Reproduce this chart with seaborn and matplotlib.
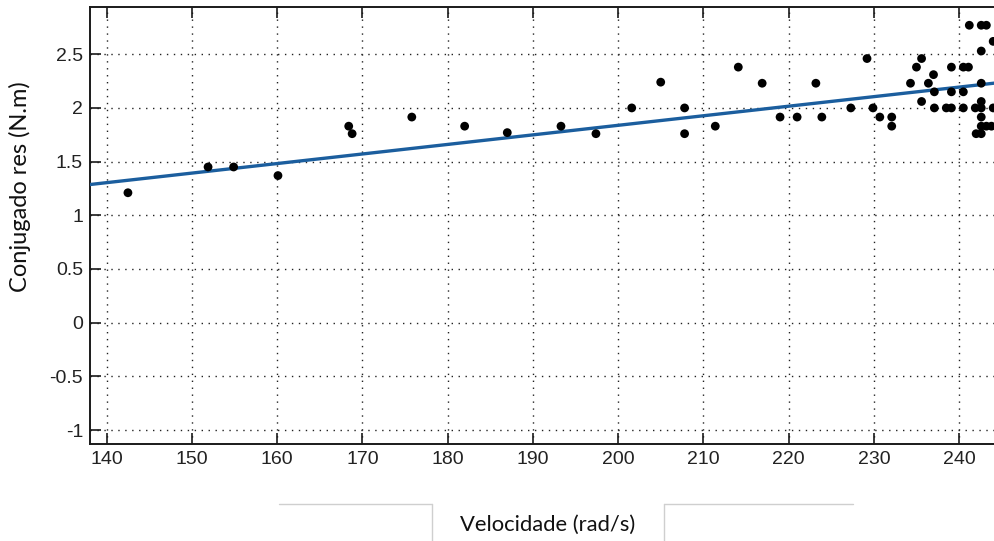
import numpy as np
import pandas as pd
import matplotlib
matplotlib.use("Agg")
import matplotlib.pyplot as plt
from matplotlib.lines import Line2D
from matplotlib import font_manager
import seaborn as sns

# Measured speed / resistive torque pairs
velocidade = [142.5, 151.9, 154.9, 160.1, 168.4, 168.8, 175.8, 182.0, 187.0, 193.3,
              197.4, 201.6, 205.0, 207.8, 207.8, 211.4, 214.1, 216.9, 219.0, 221.0,
              223.2, 223.9, 227.3, 229.2, 229.9, 230.7, 232.1, 232.1, 234.3, 235.0,
              235.6, 235.6, 236.4, 237.0, 237.1, 237.1, 238.5, 239.1, 239.1, 239.1,
              240.5, 240.5, 240.5, 241.1, 241.2, 241.9, 242.0, 242.6, 242.6, 242.6,
              242.6, 242.6, 242.6, 242.6, 242.6, 243.2, 243.2, 243.8, 244.0, 244.0]
conjugado = [1.21, 1.45, 1.45, 1.37, 1.83, 1.76, 1.915, 1.83, 1.77, 1.83,
             1.76, 2.00, 2.24, 2.00, 1.76, 1.83, 2.38, 2.23, 1.915, 1.915,
             2.23, 1.915, 2.00, 2.46, 2.00, 1.915, 1.915, 1.83, 2.23, 2.38,
             2.46, 2.06, 2.23, 2.31, 2.15, 2.00, 2.00, 2.00, 2.38, 2.15,
             2.15, 2.00, 2.38, 2.38, 2.77, 2.00, 1.76, 2.77, 2.53, 2.23,
             2.06, 2.00, 1.915, 1.83, 1.76, 2.77, 1.83, 1.83, 2.62, 2.00]

# Linear fit coefficients (torque = slope * speed + intercept)
fit_slope = 0.0089
fit_intercept = 0.058

xticks = [140, 150, 160, 170, 180, 190, 200, 210, 220, 230, 240]
yticks = [-1, -0.5, 0, 0.5, 1, 1.5, 2, 2.5]
ytick_labels = ["-1", "-0.5", "0", "0.5", "1", "1.5", "2", "2.5"]

df = pd.DataFrame({"Velocidade": velocidade, "Conjugado": conjugado})

sns.set_theme(style="white")

# narrow face for the tick numbers if one is installed
installed = {f.name for f in font_manager.fontManager.ttflist}
tick_stretch = "normal"
if "Liberation Sans Narrow" in installed:
    tick_family = ["Liberation Sans Narrow", "DejaVu Sans"]
else:
    tick_family = ["Liberation Sans", "DejaVu Sans"]
    tick_stretch = "condensed"
plt.rcParams["font.family"] = tick_family

W, H = 994, 541
fig = plt.figure(figsize=(W / 100, H / 100), dpi=100)
fig.patch.set_facecolor("white")

# axes box in pixels: left 90, top 7, bottom 444, right runs past the figure edge
left_px, right_px, top_px, bot_px = 90, 1000, 7, 444
ax = fig.add_axes([left_px / W, 1 - bot_px / H, (right_px - left_px) / W, (bot_px - top_px) / H])

xlim = (138.05, 244.8)
ylim = (-1.13, 2.94)

fit_x = np.array(xlim)
fit_df = pd.DataFrame({"Velocidade": fit_x, "Conjugado": fit_slope * fit_x + fit_intercept})

sns.lineplot(data=fit_df, x="Velocidade", y="Conjugado", ax=ax, color="#1b5e9e",
             linewidth=2.4, zorder=3)
sns.scatterplot(data=df, x="Velocidade", y="Conjugado", ax=ax, color="black",
                s=40, edgecolor="none", zorder=4)

ax.set_xlim(*xlim)
ax.set_ylim(*ylim)
ax.set_xticks(xticks)
ax.set_xticklabels([str(t) for t in xticks])
ax.set_yticks(yticks)
ax.set_yticklabels(ytick_labels)
ax.set_xlabel("")
ax.set_ylabel("")

ax.grid(True, color="#222222", linestyle=(0, (1, 4)), linewidth=1.0)
ax.set_axisbelow(True)
for side in ["left", "bottom", "top"]:
    ax.spines[side].set_visible(True)
    ax.spines[side].set_color("#1a1a1a")
    ax.spines[side].set_linewidth(1.4)
ax.spines["right"].set_visible(False)

ax.tick_params(axis="both", direction="in", length=8, width=1.2, color="#1a1a1a",
               labelsize=14, labelcolor="#222222", pad=5)
ax.tick_params(axis="x", top=True, bottom=True)
ax.tick_params(axis="y", left=True, right=False)
for lab in ax.get_xticklabels() + ax.get_yticklabels():
    lab.set_fontstretch(tick_stretch)

# axis titles
title_family = ["Lato", "DejaVu Sans"]
fig.text(548 / W, 1 - 525 / H, "Velocidade (rad/s)", ha="center", va="center",
         fontsize=15.8, family=title_family, color="#111111")
fig.text(20 / W, 1 - 187 / H, "Conjugado res (N.m)", ha="center", va="center",
         rotation=90, fontsize=17, family=title_family, color="#111111")

# light frame edges beside the x-axis title
frame_col = "#cfcfcf"
for xs, ys in [([279, 432], [504, 504]), ([432, 432], [504, 541]),
               ([664, 853], [504, 504]), ([664, 664], [504, 541])]:
    fig.add_artist(Line2D([x / W for x in xs], [1 - y / H for y in ys],
                          color=frame_col, linewidth=1.0))

fig.savefig("out.png", dpi=100, facecolor="white")
